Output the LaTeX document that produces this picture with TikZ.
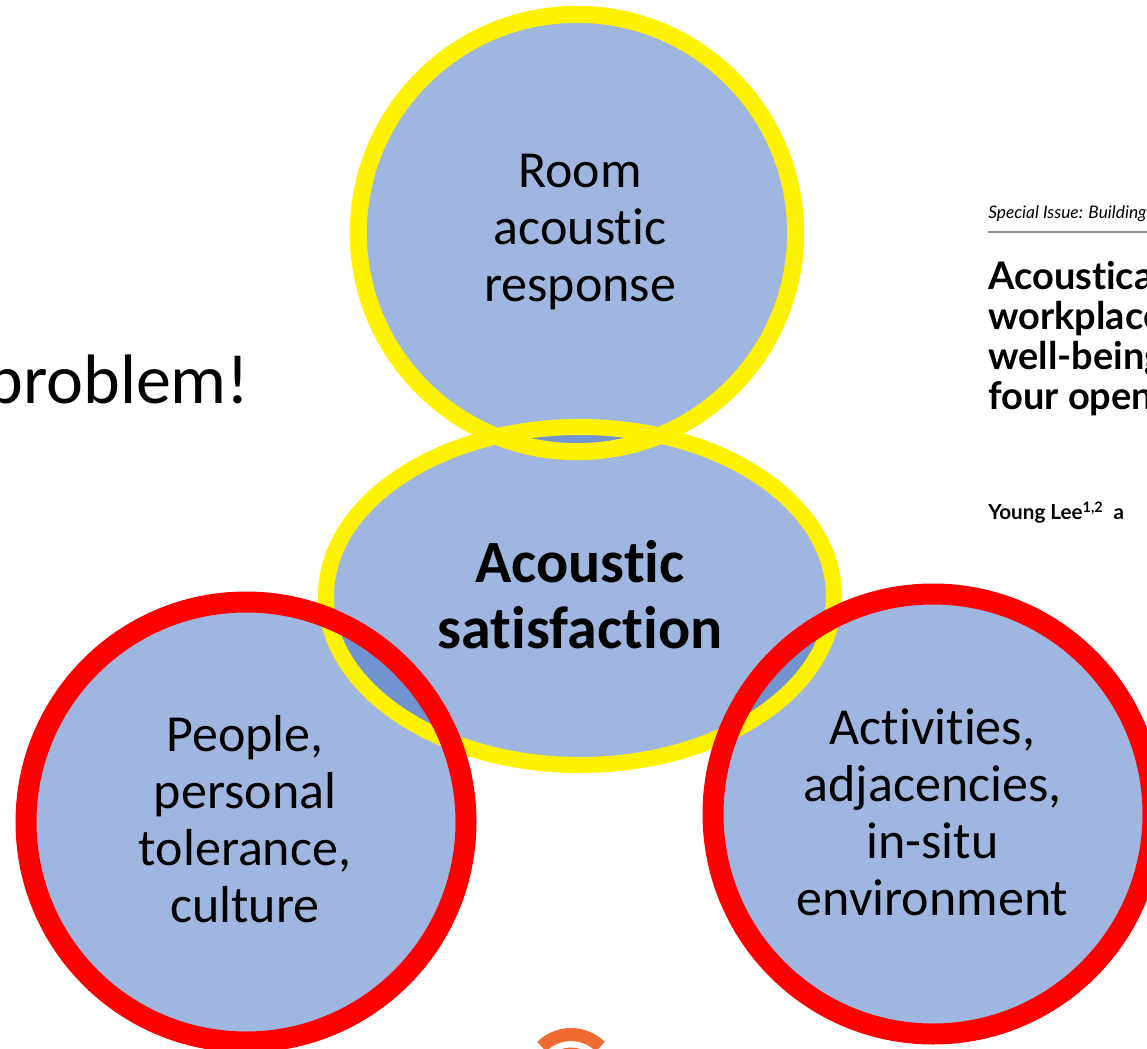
\documentclass[tikz,border=0pt]{standalone}
\usepackage{fontspec}
\setmainfont{Carlito}[Ligatures=NoCommon]
\newfontfamily\paperfont{Lato}[Ligatures=NoCommon]
\definecolor{bubble}{HTML}{4775C3}
\definecolor{logoorange}{HTML}{F06A32}
\definecolor{rulegray}{HTML}{8C8C8C}
\tikzset{
  blob/.style={fill=bubble,fill opacity=0.52},
  factor/.style={font=\fontsize{39}{42.75}\selectfont,align=center,inner sep=0pt},
  core/.style={font=\bfseries\fontsize{45}{49.5}\selectfont,align=center,inner sep=0pt},
  paper/.style={font=\paperfont,anchor=base west,inner sep=0pt}
}
\begin{document}
\begin{tikzpicture}[x=0.75pt,y=-0.75pt]
     % Definitions
     \def\rtop{164pt}
     \def\rred{165pt}
     \def\rx{190.5pt}
     \def\ry{126.75pt}
     \useasboundingbox (0,0) rectangle (1147,1049);
     \clip (0,0) rectangle (1147,1049);
     \coordinate (room) at (577,233);
     \coordinate (sat) at (580,596);
     \coordinate (people) at (246,822);
     \coordinate (activ) at (933,814);
     \coordinate (logo) at (571,1076);
     % Fills first, rings on top
     \fill[blob] (room) circle[radius=\rtop];
     \fill[blob] (sat) ellipse[x radius=\rx,y radius=\ry];
     \foreach \c in {people,activ} {
      \fill[blob] (\c) circle[radius=\rred];
     };
     \draw[yellow,line width=12.75pt] (room) circle[radius=\rtop];
     \draw[yellow,line width=12pt] (sat) ellipse[x radius=\rx,y radius=\ry];
     \foreach \c in {people,activ} {
      \draw[red,line width=15.75pt] (\c) circle[radius=\rred];
     };
     % Texts
     \node[factor] (roomtext) at (580,232.5) {Room\\acoustic\\response};
     \node[core] (sattext) at (580,595) {Acoustic\\satisfaction};
     \node[factor] (peopletext) at (245,819.5) {People,\\personal\\tolerance,\\culture};
     \node[factor] (activtext) at (932.5,812.5) {Activities,\\adjacencies,\\in-situ\\environment};
     \node[font=\fontsize{52.5}{60}\selectfont,anchor=base east,inner sep=0pt] (problem) at (250,403) {problem!};
     % Paper clipping
     \node[paper,font=\paperfont\itshape\fontsize{13}{15}\selectfont] (issue) at (988,219) {Special Issue: Building};
     \draw[rulegray,line width=1.5pt] (988,232) -- (1147,232);
     \foreach \y/\word [count=\i] in {289/Acoustica,329/workplace,369/well-being,409/four open} {
      \node[paper,font=\paperfont\bfseries\fontsize{28.5}{32}\selectfont] (title\i) at (988,\y) {\word};
     };
     \node[paper,font=\paperfont\bfseries\fontsize{15.5}{18}\selectfont] (author) at (988,519) {Young Lee\textsuperscript{1,2}\ \ a};
     % Logo arcs
     \foreach \r in {31.1pt,16.5pt} {
      \draw[logoorange,line width=9.75pt] (logo) ++(45:\r) arc[start angle=45,end angle=135,radius=\r];
     };
\end{tikzpicture}
\end{document}
